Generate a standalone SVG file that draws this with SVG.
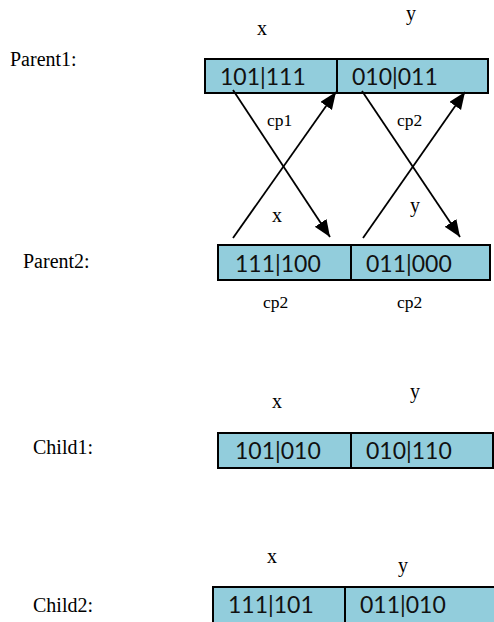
<svg xmlns="http://www.w3.org/2000/svg" width="494" height="622" viewBox="0 0 494 622">
<style>
.lbl{font-family:"Liberation Serif","Times New Roman",serif;font-size:20px;fill:#000}
.cp{font-family:"Liberation Serif","Times New Roman",serif;font-size:17.5px;fill:#000}
.cell{fill:#92CDDC;stroke:#000;stroke-width:2}
.val{font-family:Lato,"Open Sans",sans-serif;font-size:23px;fill:#111}
.arr{stroke:#000;stroke-width:1.8;fill:none;marker-end:url(#ah)}
</style>
<defs>
<marker id="ah" markerUnits="userSpaceOnUse" markerWidth="18" markerHeight="15" refX="17" refY="7" orient="auto">
<path d="M0,0 L17,7 L0,14 Z" fill="#000"/>
</marker>
</defs>
<rect width="494" height="622" fill="#fff"/>
<g id="labels">
<text class="lbl" x="257" y="35">x</text>
<text class="lbl" x="406" y="20">y</text>
<text class="lbl" x="10" y="66">Parent1:</text>
<text class="lbl" x="23" y="268">Parent2:</text>
<text class="cp" x="263" y="308">cp2</text>
<text class="cp" x="397" y="308">cp2</text>
<text class="lbl" x="272" y="408">x</text>
<text class="lbl" x="410" y="398">y</text>
<text class="lbl" x="33" y="454">Child1:</text>
<text class="lbl" x="267" y="563">x</text>
<text class="lbl" x="398" y="572">y</text>
<text class="lbl" x="33" y="612">Child2:</text>
</g>
<g id="parent1">
<rect class="cell" x="205" y="59" width="132" height="34"/>
<rect class="cell" x="337" y="59" width="151" height="34"/>
<text class="val" x="220" y="85">101|111</text>
<text class="val" x="352" y="85">010|011</text>
</g>
<g id="parent2">
<rect class="cell" x="218" y="245" width="133" height="35"/>
<rect class="cell" x="351" y="245" width="139" height="35"/>
<text class="val" x="235" y="272">111|100</text>
<text class="val" x="366" y="272">011|000</text>
</g>
<g id="child1">
<rect class="cell" x="218" y="433" width="133" height="35"/>
<rect class="cell" x="351" y="433" width="142" height="35"/>
<text class="val" x="235" y="459">101|010</text>
<text class="val" x="366" y="459">010|110</text>
</g>
<g id="child2">
<rect class="cell" x="213" y="587" width="132" height="40"/>
<rect class="cell" x="345" y="587" width="158" height="40"/>
<text class="val" x="228" y="613">111|101</text>
<text class="val" x="360" y="613">011|010</text>
</g>
<g id="connectors">
<line class="arr" x1="233" y1="90" x2="330" y2="237"/>
<line class="arr" x1="233" y1="238" x2="336" y2="92"/>
<line class="arr" x1="362" y1="91" x2="460" y2="237"/>
<line class="arr" x1="363" y1="238" x2="465" y2="92"/>
<text class="cp" x="267" y="126">cp1</text>
<text class="cp" x="397" y="126">cp2</text>
<text class="lbl" x="272" y="222">x</text>
<text class="lbl" x="410" y="212">y</text>
</g>
</svg>
